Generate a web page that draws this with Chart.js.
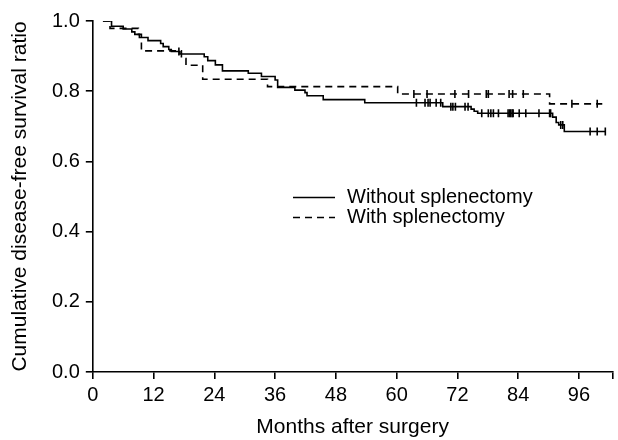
<!DOCTYPE html>
<html>
<head>
<meta charset="utf-8">
<script src="https://cdn.jsdelivr.net/npm/chart.js@4"></script>
<style>
html, body { margin: 0; padding: 0; background: #fff; }
</style>
</head>
<body>
<canvas id="km" width="618" height="440"></canvas>
<script>
// --- Données (mois, ratio de survie à chaque marche) ---
const withoutMonths = [2, 3.7, 6.0, 7.7, 8.3, 9.2, 10.9, 13.4, 13.9, 15.0, 15.5, 17.2, 22.0, 22.7, 24.2, 25.6, 30.7, 33.3, 36.0, 36.5, 39.9, 41.9, 42.3, 45.5, 53.7, 69.1, 74.7, 75.3, 76.0, 90.8, 91.5, 92.0, 93.1, 101.3];
const withoutSurv = [1.0, 0.985, 0.977, 0.969, 0.962, 0.953, 0.944, 0.936, 0.927, 0.919, 0.913, 0.906, 0.898, 0.887, 0.875, 0.858, 0.851, 0.842, 0.832, 0.811, 0.803, 0.796, 0.787, 0.776, 0.767, 0.756, 0.749, 0.743, 0.737, 0.726, 0.711, 0.704, 0.685, 0.685];
const withoutCensored = [17.0, 63.9, 65.6, 66.2, 66.6, 67.8, 68.7, 70.7, 71.1, 71.6, 73.5, 74.1, 76.8, 78.1, 78.6, 79.1, 80.1, 82.0, 82.3, 82.5, 82.8, 83.0, 84.2, 85.5, 88.1, 90.2, 90.4, 92.4, 92.8, 98.2, 99.6, 101.2];

const withMonths = [2, 3.4, 9.0, 9.6, 17.5, 18.4, 21.7, 34.5, 60.2, 90.2, 100.6];
const withSurv = [1.0, 0.979, 0.962, 0.915, 0.893, 0.874, 0.834, 0.813, 0.792, 0.764, 0.764];
const withCensored = [63.4, 66.0, 71.5, 74.2, 77.7, 78.1, 82.2, 82.9, 85.0, 94.6, 99.6];

const seriesNames = ['Without splenectomy', 'With splenectomy'];
const xTickLabels = [0, 12, 24, 36, 48, 60, 72, 84, 96];
const yTickLabels = [0, 0.2, 0.4, 0.6, 0.8, 1.0];
const X_MAX = 102.6;

const FONT = "'Liberation Sans', Arial, Helvetica, sans-serif";
Chart.defaults.font.family = FONT;
Chart.defaults.color = '#000';

// niveau de la courbe au temps t (pour placer les censures sur la marche)
function levelAt(months, surv, t) {
    let v = surv[0];
    for (let i = 0; i < months.length; i++) {
        if (months[i] <= t) v = surv[i];
    }
    return v;
}

const toPoints = (months, surv) => months.map((m, i) => ({ x: m, y: surv[i] }));
const censorPoints = (cens, months, surv) => cens.map(t => ({ x: t, y: levelAt(months, surv, t) }));

const DASH = [7, 5];
const LW = 1.6;

const kmLegend = {
    id: 'kmLegend',
    afterDraw(chart) {
        const ctx = chart.ctx;
        ctx.save();
        ctx.strokeStyle = '#000';
        ctx.fillStyle = '#000';
        ctx.lineWidth = LW;
        ctx.font = '20px ' + FONT;
        ctx.textBaseline = 'middle';
        seriesNames.forEach((name, i) => {
            const y = 197.5 + i * 20;
            ctx.setLineDash(i === 0 ? [] : DASH);
            ctx.beginPath();
            ctx.moveTo(293, y);
            ctx.lineTo(335, y);
            ctx.stroke();
            ctx.fillText(name, 347, y);
        });
        ctx.restore();
    }
};

const censorStyle = {
    showLine: false,
    pointStyle: 'line',
    rotation: 90,
    pointRadius: 4,
    pointHoverRadius: 4,
    pointBorderWidth: LW,
    pointBorderColor: '#000',
    borderColor: '#000'
};

new Chart(document.getElementById('km'), {
    type: 'line',
    data: {
        datasets: [
            { label: seriesNames[0], data: toPoints(withoutMonths, withoutSurv), stepped: 'before', borderColor: '#000', borderWidth: LW, pointRadius: 0, fill: false },
            { label: seriesNames[1], data: toPoints(withMonths, withSurv), stepped: 'before', borderColor: '#000', borderWidth: LW, borderDash: DASH, pointRadius: 0, fill: false },
            Object.assign({ label: 'censored-1', data: censorPoints(withoutCensored, withoutMonths, withoutSurv) }, censorStyle),
            Object.assign({ label: 'censored-2', data: censorPoints(withCensored, withMonths, withSurv) }, censorStyle)
        ]
    },
    options: {
        responsive: false,
        animation: false,
        layout: { padding: { top: 21, right: 0.7, bottom: 0, left: 0 } },
        plugins: { legend: { display: false }, tooltip: { enabled: false } },
        scales: {
            x: {
                type: 'linear', min: 0, max: X_MAX,
                ticks: {
                    autoSkip: false, maxRotation: 0, padding: 4, color: '#000',
                    font: { size: 20 },
                    callback: v => xTickLabels.includes(v) ? String(v) : ''
                },
                // ticks 0..96 + trait en bout d'axe
                afterBuildTicks: s => { s.ticks = xTickLabels.concat([X_MAX]).map(v => ({ value: v })); },
                grid: { drawOnChartArea: false, drawTicks: true, tickLength: 7, color: '#000', lineWidth: LW },
                border: { display: true, color: '#000', width: LW },
                title: { display: true, text: 'Months after surgery', color: '#000', font: { size: 21 }, padding: { top: 0, bottom: 0 } },
                afterFit: s => { s.height = 68; }
            },
            y: {
                min: 0, max: 1,
                ticks: {
                    padding: 6, color: '#000',
                    font: { size: 20 },
                    callback: v => v.toFixed(1)
                },
                afterBuildTicks: s => { s.ticks = yTickLabels.map(v => ({ value: v })); },
                grid: { drawOnChartArea: false, drawTicks: true, tickLength: 7, color: '#000', lineWidth: LW },
                border: { display: true, color: '#000', width: LW },
                title: { display: true, text: 'Cumulative disease-free survival ratio', color: '#000', font: { size: 21 }, padding: { top: 8, bottom: 0 } },
                afterFit: s => { s.width = 92.8; }
            }
        }
    },
    plugins: [kmLegend]
});
</script>
</body>
</html>
